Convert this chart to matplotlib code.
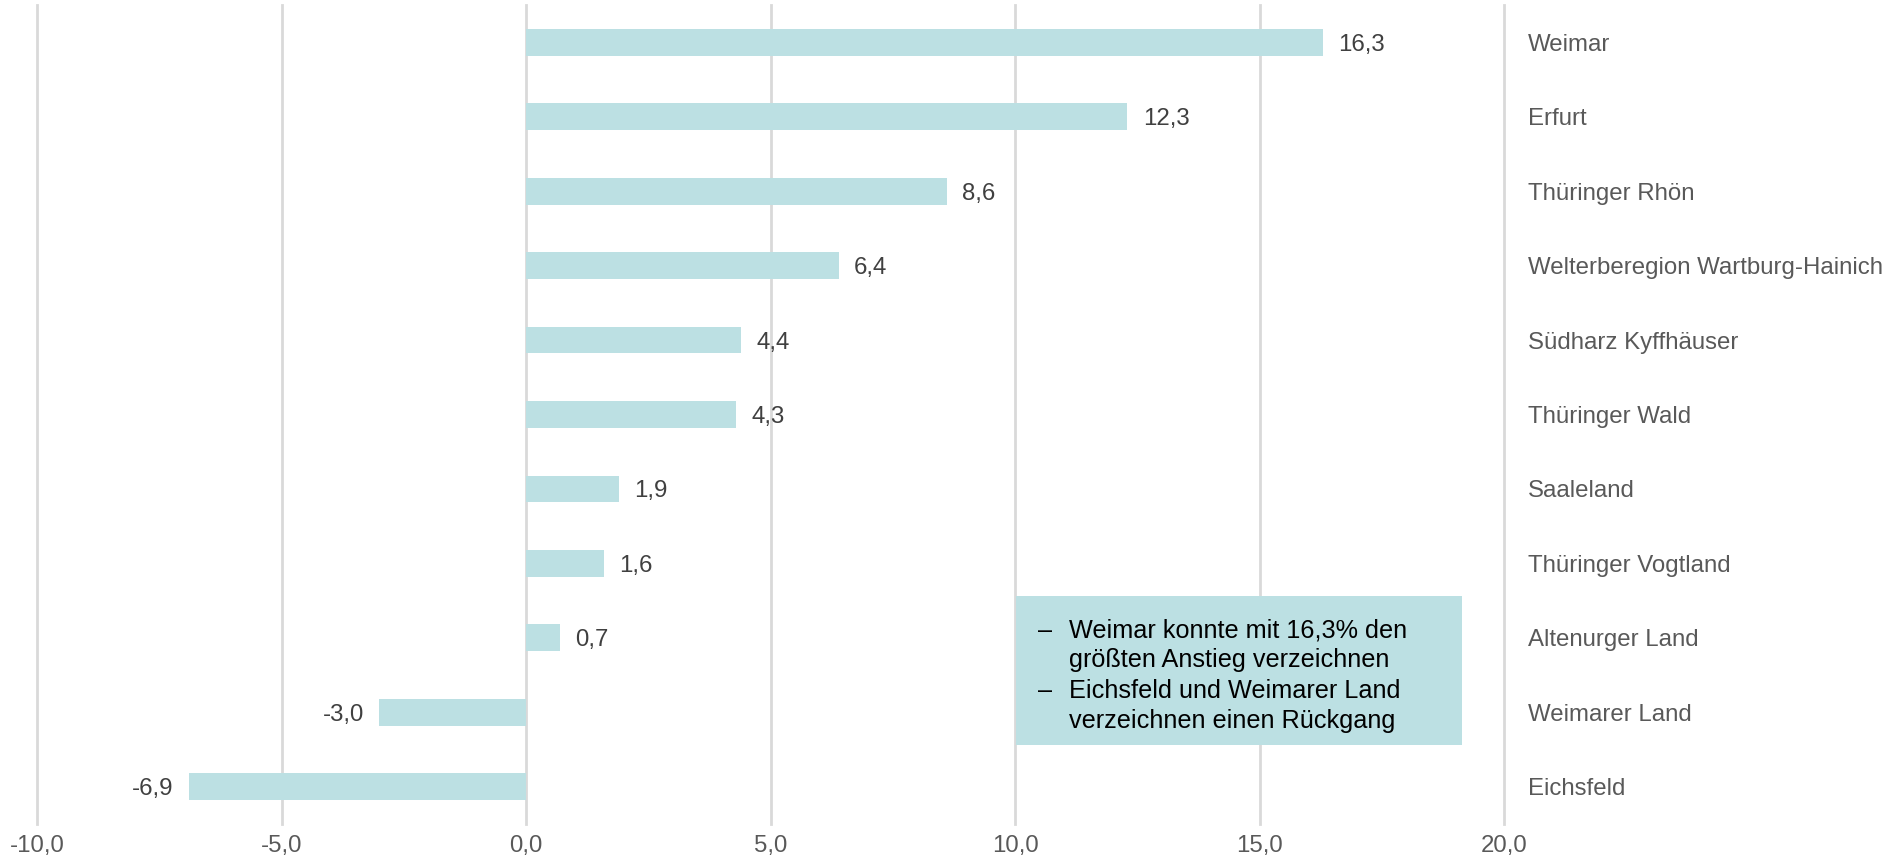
import matplotlib
matplotlib.use("Agg")
import matplotlib.pyplot as plt

categories = ["Weimar", "Erfurt", "Thüringer Rhön", "Welterberegion Wartburg-Hainich",
              "Südharz Kyffhäuser", "Thüringer Wald", "Saaleland", "Thüringer Vogtland",
              "Altenurger Land", "Weimarer Land", "Eichsfeld"]
values = [16.3, 12.3, 8.6, 6.4, 4.4, 4.3, 1.9, 1.6, 0.7, -3.0, -6.9]
xticks = [-10, -5, 0, 5, 10, 15, 20]
note_lines = ["Weimar konnte mit 16,3% den", "größten Anstieg verzeichnen",
              "Eichsfeld und Weimarer Land", "verzeichnen einen Rückgang"]
note_bullets = [True, False, True, False]

plt.rcParams['font.family'] = ['Liberation Sans', 'DejaVu Sans']
W, H = 1887, 863
fig = plt.figure(figsize=(W / 100, H / 100), dpi=100)
ax = fig.add_axes([37 / W, 1 - 824 / H, (1504 - 37) / W, (824 - 5) / H])

bar_color = "#BCE0E3"
y = list(range(len(categories)))
ax.barh(y, values, height=0.36, color=bar_color, zorder=2)
ax.set_ylim(len(categories) - 0.5, -0.5)
ax.set_xlim(-10, 20)
ax.set_xticks(xticks)
ax.set_xticklabels([f"{t:.1f}".replace(".", ",") for t in xticks], fontsize=17.3, color="#595959")
ax.tick_params(axis="x", length=0, pad=8)
ax.set_yticks([])
for s in ax.spines.values():
    s.set_visible(False)
ax.grid(axis="x", color="#D9D9D9", linewidth=2, zorder=0)
for gl in ax.get_xgridlines():
    gl.set_clip_on(False)

for yi, v in zip(y, values):
    lab = f"{v:.1f}".replace(".", ",")
    if v >= 0:
        ax.annotate(lab, (v, yi), xytext=(11, 0), textcoords="offset points",
                    ha="left", va="center_baseline", fontsize=17.3, color="#404040")
    else:
        ax.annotate(lab, (v, yi), xytext=(-11, 0), textcoords="offset points",
                    ha="right", va="center_baseline", fontsize=17.3, color="#404040")
    ax.annotate(categories[yi], (20, yi), xytext=(17, 0), textcoords="offset points",
                ha="left", va="center_baseline", fontsize=17.3, color="#595959",
                annotation_clip=False)

# annotation box
bx0, by0, bx1, by1 = 1016, 596, 1462, 745
rect = plt.Rectangle((bx0 / W, 1 - by1 / H), (bx1 - bx0) / W, (by1 - by0) / H,
                     transform=fig.transFigure, facecolor=bar_color, edgecolor="none", zorder=1)
fig.patches.append(rect)
fs = 18.2
ys = [628, 658, 688, 718]
for line, bullet, yy in zip(note_lines, note_bullets, ys):
    if bullet:
        fig.text(1038 / W, 1 - yy / H, "–", fontsize=fs, color="black",
                 va="center_baseline", zorder=10)
    fig.text(1069 / W, 1 - yy / H, line, fontsize=fs, color="black",
             va="center_baseline", zorder=10)

fig.savefig("out.png", dpi=100)
